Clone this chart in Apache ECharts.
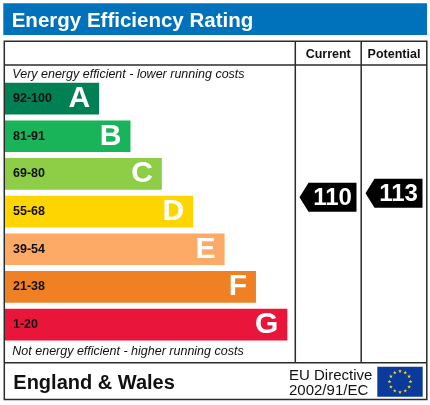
<!DOCTYPE html>
<html>
<head>
<meta charset="utf-8">
<script src="https://cdn.jsdelivr.net/npm/echarts@6/dist/echarts.min.js"></script>
<style>html,body{margin:0;padding:0;background:#fff;}#c{width:430px;height:405px;}</style>
</head>
<body>
<div id="c"></div>
<script>
// ---- data ----
var bandLetters = ['A', 'B', 'C', 'D', 'E', 'F', 'G'];
var bandRanges = ['92-100', '81-91', '69-80', '55-68', '39-54', '21-38', '1-20'];
var bandLengths = [3, 4, 5, 6, 7, 8, 9];
var ratingColumns = ['Current', 'Potential'];
var ratingValues = [110, 113];

// ---- style ----
var bandColors = ['#008054', '#19b459', '#8dce46', '#ffd500', '#fcaa65', '#ef8023', '#e9153b'];
var FONT = '"Liberation Sans", Arial, Helvetica, sans-serif';
var LINE = '#2b2b2b';

var chart = echarts.init(document.getElementById('c'), null, {renderer: 'canvas'});

// EU flag stars (decoration)
var flagStars = [];
(function () {
  var cx = 400, cy = 381.7, R = 10.5, ro = 2.0, ri = 0.8;
  for (var k = 0; k < 12; k++) {
    var a = k * Math.PI / 6;
    var sx = cx + R * Math.sin(a), sy = cy - R * Math.cos(a);
    var pts = [];
    for (var j = 0; j < 10; j++) {
      var r = (j % 2 === 0) ? ro : ri;
      var b = j * Math.PI / 5;
      pts.push([sx + r * Math.sin(b), sy - r * Math.cos(b)]);
    }
    flagStars.push({type: 'polygon', shape: {points: pts}, style: {fill: '#ffdd00'}, silent: true});
  }
})();

var barData = bandLengths.map(function (v, i) {
  return {value: v, itemStyle: {color: bandColors[i]}};
});

var option = {
  animation: false,
  grid: [
    {left: 5, top: 79.75, width: 313.7, height: 263.7},
    {left: 295, top: 80.2, width: 132, height: 260}
  ],
  xAxis: [
    {gridIndex: 0, type: 'value', min: 0, max: 10, show: false},
    {gridIndex: 1, type: 'category', data: ratingColumns, show: false}
  ],
  yAxis: [
    {gridIndex: 0, type: 'category', data: bandLetters, inverse: true, show: false},
    {gridIndex: 1, type: 'value', min: 0, max: 200, show: false}
  ],
  series: [
    {
      type: 'bar', xAxisIndex: 0, yAxisIndex: 0, barWidth: 31.7,
      data: barData,
      label: {
        show: true, position: 'insideRight', distance: 9,
        formatter: function (p) { return bandLetters[p.dataIndex]; },
        color: '#fff', fontFamily: FONT, fontWeight: 'bold', fontSize: 30
      }
    },
    {
      type: 'bar', xAxisIndex: 0, yAxisIndex: 0, barWidth: 31.7, barGap: '-100%',
      data: bandLengths,
      itemStyle: {color: 'rgba(0,0,0,0)'},
      label: {
        show: true, position: 'insideLeft', distance: 8,
        formatter: function (p) { return bandRanges[p.dataIndex]; },
        color: '#111', fontFamily: FONT, fontWeight: 'bold', fontSize: 12.5
      }
    },
    {
      type: 'custom', xAxisIndex: 1, yAxisIndex: 1, clip: false,
      data: ratingValues.map(function (v, i) { return [i, v]; }),
      renderItem: function (params, api) {
        var c = api.coord([api.value(0), api.value(1)]);
        var hw = 28.5, hh = 14.5, tip = 9;
        var x0 = c[0] - hw, x1 = c[0] + hw, y0 = c[1] - hh, y1 = c[1] + hh;
        return {
          type: 'group',
          children: [
            {type: 'polygon', shape: {points: [[x0, c[1]], [x0 + tip, y0], [x1, y0], [x1, y1], [x0 + tip, y1]]}, style: {fill: '#000'}},
            {type: 'text', style: {text: String(api.value(1)), x: (x0 + tip + x1) / 2, y: c[1] + 1,
              textAlign: 'center', textVerticalAlign: 'middle', fill: '#fff', font: 'bold 24px ' + FONT}}
          ]
        };
      }
    }
  ],
  graphic: [
    {type: 'rect', shape: {x: 3.3, y: 3.3, width: 423.7, height: 31.7}, style: {fill: '#0072bc'}, silent: true},
    {type: 'text', style: {text: 'Energy Efficiency Rating', x: 11.7, y: 21.3, textVerticalAlign: 'middle', fill: '#fff', font: 'bold 20.5px ' + FONT}},
    {type: 'rect', shape: {x: 4.3, y: 41.2, width: 422.5, height: 358.3}, style: {fill: 'none', stroke: LINE, lineWidth: 1.5}, silent: true},
    {type: 'line', shape: {x1: 4.3, y1: 65, x2: 426.8, y2: 65}, style: {stroke: LINE, lineWidth: 1.5}, silent: true},
    {type: 'line', shape: {x1: 4.3, y1: 362.7, x2: 426.8, y2: 362.7}, style: {stroke: LINE, lineWidth: 1.5}, silent: true},
    {type: 'line', shape: {x1: 295.3, y1: 41.2, x2: 295.3, y2: 362.7}, style: {stroke: LINE, lineWidth: 1.5}, silent: true},
    {type: 'line', shape: {x1: 361.2, y1: 41.2, x2: 361.2, y2: 362.7}, style: {stroke: LINE, lineWidth: 1.5}, silent: true},
    {type: 'text', style: {text: 'Current', x: 328.2, y: 54.8, textAlign: 'center', textVerticalAlign: 'middle', fill: '#111', font: 'bold 12.5px ' + FONT}},
    {type: 'text', style: {text: 'Potential', x: 394, y: 54.8, textAlign: 'center', textVerticalAlign: 'middle', fill: '#111', font: 'bold 12.5px ' + FONT}},
    {type: 'text', style: {text: 'Very energy efficient - lower running costs', x: 12.3, y: 75, textVerticalAlign: 'middle', fill: '#111', font: 'italic 12.5px ' + FONT}},
    {type: 'text', style: {text: 'Not energy efficient - higher running costs', x: 12.3, y: 352, textVerticalAlign: 'middle', fill: '#111', font: 'italic 12.5px ' + FONT}},
    {type: 'text', style: {text: 'England & Wales', x: 13.3, y: 383.3, textVerticalAlign: 'middle', fill: '#111', font: 'bold 20px ' + FONT}},
    {type: 'text', style: {text: 'EU Directive', x: 289, y: 375.8, textVerticalAlign: 'middle', fill: '#111', font: '15px ' + FONT}},
    {type: 'text', style: {text: '2002/91/EC', x: 289, y: 391.3, textVerticalAlign: 'middle', fill: '#111', font: '15px ' + FONT}},
    {type: 'rect', shape: {x: 377.3, y: 366.7, width: 45.4, height: 30}, style: {fill: '#0a3a9c'}, silent: true},
    {type: 'group', children: flagStars, silent: true}
  ]
};
chart.setOption(option);
</script>
</body>
</html>
